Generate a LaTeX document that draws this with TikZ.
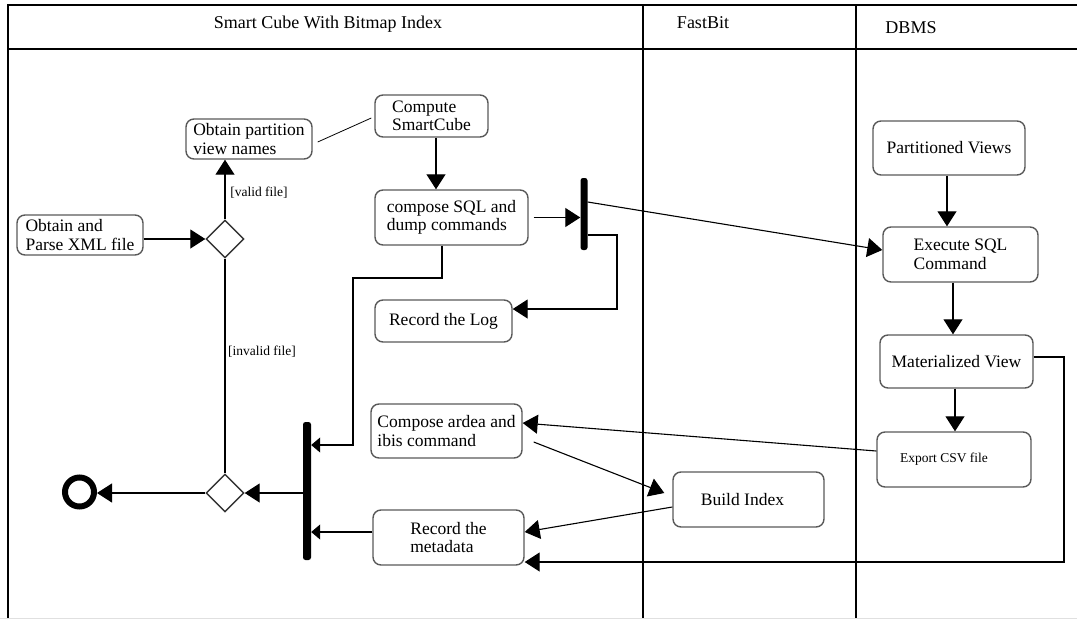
\documentclass[tikz,border=0pt]{standalone}
\usepackage{fontspec}
\setmainfont{Liberation Serif}
\usetikzlibrary{arrows.meta,shapes.geometric,calc}
\begin{document}
\begin{tikzpicture}[x=1pt,y=-1pt,
  box/.style={draw=black!65, line width=1.4pt, rounded corners=8pt, align=left,
              font=\fontsize{17.5}{18.5}\selectfont, inner sep=0pt},
  conn/.style={line width=1.1pt, -{Triangle[length=15pt,width=19pt]}},
  connsmall/.style={line width=1.1pt, -{Triangle[length=9pt,width=15pt]}},
  plain/.style={line width=1.1pt},
  thinline/.style={line width=0.8pt},
  frame/.style={line width=1.2pt},
  bar/.style={fill=black, rounded corners=2.5pt, inner sep=0pt, draw=none},
  decision/.style={diamond, draw=black!80, line width=1.4pt, minimum width=38pt,
                   minimum height=38pt, inner sep=0pt, aspect=1},
  guard/.style={font=\fontsize{13.5}{14}\selectfont, inner sep=0pt},
  lane/.style={font=\fontsize{18}{20}\selectfont, inner sep=0pt},
  final/.style={circle, draw, line width=6pt, minimum size=29pt, inner sep=0pt}
]
\useasboundingbox (0,0) rectangle (1077,619);

% frame and swimlanes
\draw[frame] (8,619) -- (8,5) -- (1077,5);
\draw[line width=1.6pt] (8,49) -- (1077,49);
\draw[frame] (643,5) -- (643,619);
\draw[frame] (856,5) -- (856,619);
\draw[black!12, line width=1pt] (0,618.5) -- (1077,618.5);

\node[lane] (lsc) at (328,24) {Smart Cube With Bitmap Index};
\node[lane] (lfb) at (703,23) {FastBit};
\node[lane] (ldb) at (911,28) {DBMS};

% Smart Cube lane
\node[box, minimum width=126pt, minimum height=40pt] (opv) at (249,139) {Obtain partition\\view names};
\node[box, minimum width=126pt, minimum height=40pt] (oxml) at (80,235) {Obtain and\\Parse XML file};
\node[decision] (d1) at (225,239) {};
\node[box, minimum width=113pt, minimum height=42pt] (csc) at (431.5,116) {Compute\\SmartCube};
\node[box, minimum width=153pt, minimum height=55pt] (csql) at (451.5,217.5) {compose SQL and\\dump commands};
\node[bar, minimum width=7pt, minimum height=72pt] (bar1) at (584,214) {};
\node[box, minimum width=137pt, minimum height=42pt] (log) at (443.5,321) {Record the Log};
\node[box, minimum width=151pt, minimum height=54pt] (cai) at (446.5,431) {Compose ardea and\\ibis command};
\node[box, minimum width=151pt, minimum height=55pt] (rmd) at (448.5,537.5) {Record the\\metadata};
\node[bar, minimum width=8pt, minimum height=138pt] (bar2) at (307,491) {};
\node[decision] (d2) at (225,493) {};
\node[final] (end) at (79.5,492) {};

% FastBit lane
\node[box, minimum width=151pt, minimum height=55pt] (bi) at (748.5,499.5) {Build Index\hspace{12pt}};

% DBMS lane
\node[box, minimum width=152pt, minimum height=54pt] (pv) at (949,148) {Partitioned Views};
\node[box, minimum width=155pt, minimum height=55pt] (esc) at (960.5,254.5) {Execute SQL\\Command};
\node[box, minimum width=153pt, minimum height=53pt] (mv) at (956.5,361.5) {Materialized View};
\node[box, minimum width=154pt, minimum height=55pt, font=\fontsize{13.5}{14}\selectfont] (csv) at (954,459.5) {Export CSV file\hspace{20pt}};

% connectors
\draw[conn] (oxml.east |- d1.west) -- (d1.west);
\draw[conn] (d1.north) -- (d1.north |- opv.south);
\node[guard] (gvalid) at (259,193) {[valid file]};
\draw[plain] (d1.south) -- (d2.north);
\node[guard] (ginvalid) at (262,352) {[invalid file]};
\draw[thinline] ([xshift=5pt,yshift=-3pt]opv.east) -- ([xshift=-3pt,yshift=-2pt]csc.west);
\draw[conn] ([xshift=4.5pt]csc.south) -- ([xshift=4.5pt]csc.south |- csql.north);
\draw[conn] ([xshift=5pt]csql.east) -- (csql.east -| bar1.west);
\draw[conn] (bar1.east |- 0,202) -- ([yshift=4.5pt]esc.west);
\draw[conn] (bar1.east |- 0,235) -- (617,235) |- ([yshift=12pt]log.east);
\draw[connsmall] ([xshift=-9.5pt]csql.south) |- (353,278) |- (bar2.east |- 0,445);
\draw[connsmall] ([yshift=5.5pt]rmd.west) -- (bar2.east |- 0,532);
\draw[conn] (bar2.west |- d2.east) -- (d2.east);
\draw[conn] (d2.west) -- (end.east |- d2.west);

\draw[conn] ([xshift=-2pt]pv.south) -- ([xshift=-2pt]pv.south |- esc.north);
\draw[conn] ([xshift=-7.5pt]esc.south) -- ([xshift=-7.5pt]esc.south |- mv.north);
\draw[conn] ([xshift=-1.5pt]mv.south) -- ([xshift=-1.5pt]mv.south |- csv.north);
\draw[conn] ([yshift=8.5pt]csv.west) -- ([yshift=8pt]cai.east);
\draw[conn] ([xshift=11pt,yshift=-11pt]cai.east) -- ([xshift=-8pt,yshift=6.5pt]bi.west);
\draw[conn] ([yshift=-7.5pt]bi.west) -- ([yshift=5.5pt]rmd.east);
\draw[conn] ([yshift=4.5pt]mv.east) -- (1064,357) |- ([yshift=-24.5pt]rmd.east);
\end{tikzpicture}
\end{document}
